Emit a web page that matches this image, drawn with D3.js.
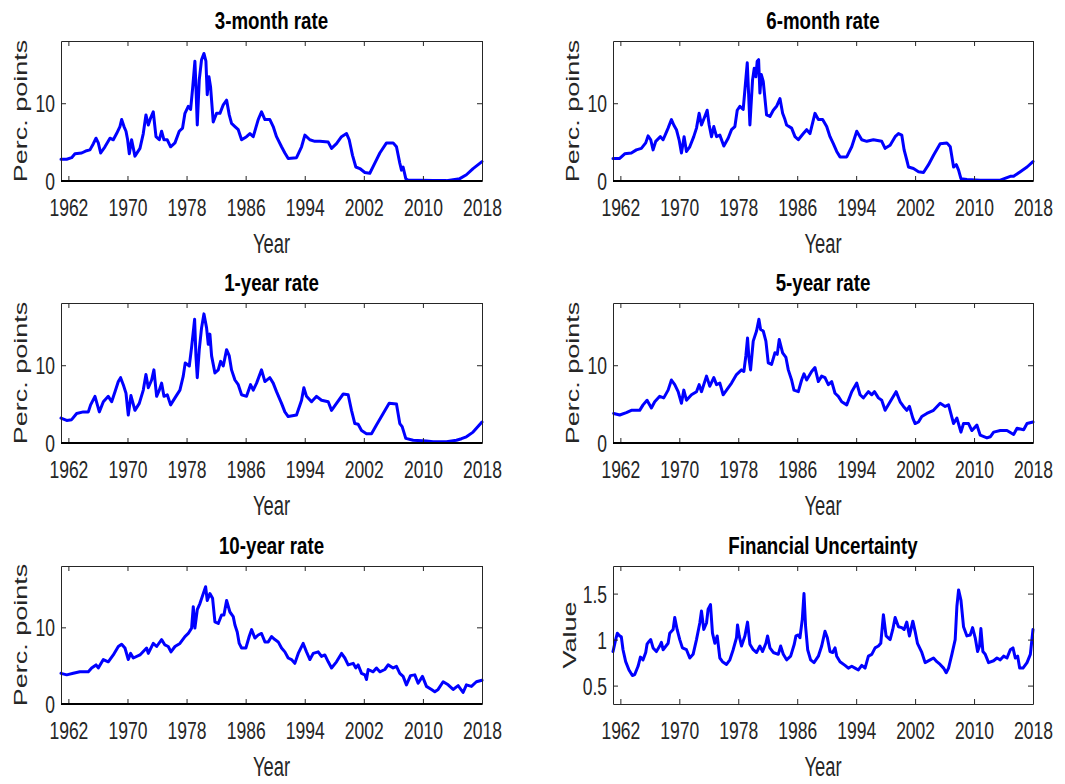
<!DOCTYPE html>
<html>
<head>
<meta charset="utf-8">
<script src="https://cdn.jsdelivr.net/npm/d3@7"></script>
<style>
  html, body { margin: 0; padding: 0; background: #ffffff; }
  svg { display: block; }
</style>
</head>
<body>
<svg id="chart" width="1065" height="784"></svg>
<script>
// ---------------- DATA ----------------
const xTickYears = [1962, 1970, 1978, 1986, 1994, 2002, 2010, 2018];
const rateTicks = [0, 10];
const uncTicks = [0.5, 1, 1.5];
const panelTitles = ["3-month rate", "6-month rate", "1-year rate", "5-year rate", "10-year rate", "Financial Uncertainty"];
const yLabels = ["Perc. points", "Perc. points", "Perc. points", "Perc. points", "Perc. points", "Value"];

const rate3mYears = [1961.0,1961.77,1962.44,1962.89,1963.8,1964.47,1964.92,1965.38,1965.74,1966.05,1966.37,1966.95,1967.63,1968.08,1968.53,1968.98,1969.21,1969.53,1969.8,1970.02,1970.25,1970.56,1971.01,1971.69,1972.14,1972.5,1972.82,1973.13,1973.49,1973.86,1974.31,1974.62,1974.94,1975.39,1975.84,1976.43,1977.01,1977.46,1977.78,1978.23,1978.55,1978.82,1979.13,1979.27,1979.45,1979.72,1980.03,1980.35,1980.62,1980.8,1981.03,1981.25,1981.61,1982.06,1982.52,1982.97,1983.42,1983.78,1984.09,1984.55,1985.0,1985.45,1986.12,1986.58,1987.03,1987.7,1988.15,1988.61,1989.28,1989.73,1990.18,1990.86,1991.31,1991.76,1992.89,1993.57,1994.02,1994.69,1995.37,1996.05,1997.18,1997.63,1998.3,1998.98,1999.66,2000.02,2000.47,2000.92,2001.46,2002.14,2002.81,2003.49,2004.17,2005.07,2005.97,2006.42,2006.87,2007.1,2007.32,2007.68,2008.0,2009.58,2011.38,2013.19,2014.99,2015.89,2016.79,2018.0];
const rate3mValues = [2.8,2.8,3.0,3.5,3.6,3.9,4.0,4.8,5.5,4.9,3.6,4.4,5.5,5.3,6.1,7.0,7.9,7.0,6.4,5.3,3.5,5.3,3.2,4.2,6.1,8.5,7.2,8.1,8.9,5.7,5.3,6.4,5.3,5.3,4.4,4.9,6.4,6.8,8.7,9.6,9.2,11.9,15.4,12.1,7.2,13.0,15.6,16.4,15.4,11.1,13.4,12.1,7.6,8.7,8.7,9.8,10.4,8.5,7.4,7.0,6.6,5.3,5.7,6.1,5.7,7.9,8.9,7.9,7.9,7.0,5.7,4.4,3.6,2.9,3.0,4.4,5.9,5.3,5.1,5.1,5.0,4.2,4.8,5.7,6.1,5.3,3.3,1.8,1.6,1.1,1.0,2.3,3.6,4.9,4.9,4.4,2.3,1.4,1.8,0.3,0.1,0.1,0.05,0.05,0.3,0.8,1.6,2.5];

const rate6mYears = [1961.0,1961.91,1962.59,1963.49,1964.17,1964.85,1965.44,1965.76,1966.12,1966.44,1966.8,1967.43,1967.8,1968.16,1968.48,1968.93,1969.25,1969.61,1969.97,1970.29,1970.65,1970.97,1971.42,1971.96,1972.33,1972.69,1973.01,1973.46,1973.78,1974.05,1974.37,1974.68,1975.05,1975.5,1976.04,1976.63,1977.09,1977.54,1977.86,1978.22,1978.67,1978.9,1979.22,1979.4,1979.58,1979.94,1980.17,1980.39,1980.57,1980.76,1980.94,1981.12,1981.39,1981.84,1982.3,1982.75,1983.2,1983.66,1984.02,1984.34,1984.56,1985.24,1985.7,1986.15,1986.83,1987.28,1987.73,1988.41,1988.87,1989.45,1990.0,1990.45,1990.9,1991.36,1991.81,1992.72,1993.4,1994.08,1994.76,1995.44,1996.34,1997.47,1997.93,1998.61,1999.29,1999.74,2000.19,2000.51,2000.87,2001.1,2001.78,2002.46,2003.14,2003.82,2004.5,2005.4,2006.31,2006.77,2007.22,2007.59,2007.9,2008.22,2009.03,2010.84,2013.56,2014.92,2015.37,2016.28,2017.19,2018.0];
const rate6mValues = [2.9,2.9,3.5,3.6,4.0,4.2,4.9,5.8,5.3,4.0,5.1,5.7,5.3,6.1,6.8,7.9,7.2,6.6,5.3,3.6,5.7,3.8,4.4,5.7,6.8,8.7,7.2,8.3,9.1,7.2,5.7,7.0,5.7,5.9,4.5,5.5,6.6,7.0,9.1,9.6,9.2,11.7,15.2,11.3,7.2,13.0,14.5,13.4,15.4,15.6,11.3,13.7,12.8,8.5,8.3,9.1,9.6,10.6,8.7,7.9,7.2,6.8,5.7,5.3,6.1,6.6,6.1,8.7,7.9,7.9,7.0,5.7,4.8,3.8,3.1,3.1,4.4,6.4,5.3,5.1,5.3,5.1,4.2,4.6,5.7,6.1,5.9,4.0,2.7,1.8,1.6,1.2,1.1,2.1,3.3,4.8,4.9,4.4,1.8,2.1,1.4,0.3,0.2,0.1,0.1,0.6,0.6,1.2,1.8,2.5];

const rate1yYears = [1961.0,1961.77,1962.44,1963.12,1964.02,1964.7,1965.01,1965.6,1966.19,1966.73,1967.4,1967.86,1968.31,1968.76,1969.07,1969.43,1969.8,1970.11,1970.47,1971.01,1971.6,1972.14,1972.5,1972.82,1973.27,1973.58,1973.95,1974.31,1974.62,1974.94,1975.39,1975.84,1976.43,1977.1,1977.55,1977.82,1978.37,1978.68,1979.09,1979.27,1979.45,1979.72,1980.03,1980.35,1980.71,1980.94,1981.16,1981.39,1981.84,1982.29,1982.61,1982.97,1983.42,1983.78,1984.09,1984.55,1985.0,1985.45,1986.12,1986.66,1987.03,1987.48,1988.15,1988.61,1989.28,1989.73,1990.18,1990.86,1991.31,1991.76,1992.89,1993.57,1993.88,1994.24,1994.92,1995.6,1996.27,1997.18,1997.63,1998.3,1999.21,1999.88,2000.33,2000.78,2001.23,2001.69,2002.36,2003.04,2003.71,2004.62,2005.43,2006.42,2006.87,2007.19,2007.68,2008.68,2010.48,2011.38,2013.19,2014.54,2015.22,2015.89,2016.79,2018.0];
const rate1yValues = [3.2,2.9,3.0,3.8,4.0,4.0,4.9,6.0,4.0,5.3,6.0,5.3,6.6,7.9,8.4,7.5,6.4,3.6,6.1,4.2,5.1,6.8,8.8,7.1,8.1,9.4,6.0,6.8,7.7,6.0,6.2,4.9,5.8,6.8,8.6,10.3,9.9,12.3,15.9,11.2,8.4,12.0,14.8,16.6,14.8,12.7,14.0,11.2,9.0,9.4,10.5,9.9,12.0,11.2,9.4,8.1,7.5,6.2,6.0,7.5,6.8,7.7,9.4,7.9,8.4,7.7,6.6,5.1,4.0,3.4,3.6,5.5,7.1,6.0,5.3,6.0,5.5,5.3,4.2,5.1,6.3,6.2,4.2,2.5,2.4,1.6,1.2,1.2,2.3,3.8,5.1,5.0,2.5,2.1,0.6,0.35,0.25,0.17,0.17,0.35,0.55,0.8,1.4,2.7];

const rate5yYears = [1961.09,1961.91,1962.81,1963.49,1964.62,1965.08,1965.62,1966.21,1966.66,1967.34,1967.89,1968.48,1968.93,1969.38,1969.84,1970.29,1970.61,1970.97,1971.65,1972.33,1972.69,1973.01,1973.69,1974.14,1974.68,1975.05,1975.5,1975.95,1976.41,1977.09,1977.76,1978.44,1978.76,1979.03,1979.26,1979.44,1979.67,1980.03,1980.48,1980.8,1981.03,1981.39,1981.75,1982.07,1982.52,1982.98,1983.29,1983.56,1984.02,1984.47,1984.79,1985.24,1985.56,1986.15,1986.6,1986.92,1987.28,1987.96,1988.41,1988.87,1989.32,1989.77,1990.22,1990.68,1991.13,1991.58,1992.04,1992.72,1993.4,1994.08,1994.53,1994.98,1995.66,1996.12,1996.48,1997.02,1997.47,1997.93,1998.61,1999.42,1999.97,2000.42,2000.87,2001.23,2001.69,2002.0,2002.46,2002.91,2003.59,2004.5,2005.4,2006.08,2006.54,2007.22,2007.67,2008.22,2008.57,2009.25,2009.71,2010.39,2010.84,2011.75,2012.2,2012.66,2013.56,2014.47,2015.37,2015.83,2016.73,2017.19,2018.0];
const rate5yValues = [3.8,3.6,3.9,4.2,4.2,4.9,5.5,4.5,5.3,6.0,5.8,6.8,8.1,7.5,6.6,5.1,6.8,5.5,6.2,6.6,7.5,6.6,8.6,7.3,8.4,7.5,7.7,6.2,6.8,7.7,8.8,9.4,9.2,11.2,13.5,11.0,9.4,13.1,14.4,15.9,14.6,14.4,13.1,10.3,10.1,11.6,11.4,13.3,11.6,11.0,9.4,8.1,6.8,6.6,8.1,8.9,8.1,9.2,9.7,7.9,8.6,8.4,7.5,7.9,6.4,6.0,5.3,4.9,6.6,7.7,6.2,5.8,6.6,6.2,6.6,5.8,5.5,4.2,5.3,6.6,5.3,4.7,4.2,4.7,3.2,2.5,2.7,3.4,3.8,4.2,5.1,4.7,4.9,2.5,3.2,1.4,2.5,2.5,1.6,2.3,1.0,0.65,0.8,1.4,1.6,1.6,1.1,1.9,1.7,2.5,2.7];

const rate10yYears = [1961.0,1961.77,1962.66,1963.55,1964.7,1965.15,1965.74,1966.05,1966.73,1967.4,1968.08,1968.76,1969.21,1969.66,1970.11,1970.43,1970.79,1971.69,1972.59,1972.82,1973.49,1973.95,1974.62,1975.07,1975.52,1975.89,1976.43,1977.1,1977.78,1978.23,1978.68,1978.91,1979.13,1979.45,1979.81,1980.26,1980.58,1980.8,1981.16,1981.52,1981.84,1982.29,1982.74,1983.06,1983.42,1983.87,1984.32,1984.55,1984.86,1985.13,1985.45,1986.03,1986.48,1986.8,1987.25,1987.7,1988.15,1988.61,1989.06,1989.51,1989.96,1990.41,1990.86,1991.31,1991.76,1992.21,1992.66,1993.12,1993.79,1994.24,1994.7,1995.15,1995.82,1996.27,1996.72,1997.18,1997.63,1998.3,1998.98,1999.43,1999.88,2000.56,2000.92,2001.23,2001.69,2002.14,2002.36,2002.59,2003.26,2003.71,2004.17,2004.84,2005.29,2005.97,2006.42,2006.87,2007.32,2007.77,2008.32,2008.9,2009.35,2009.94,2010.48,2011.16,2011.61,2012.06,2012.74,2013.42,2014.09,2014.77,2015.44,2015.89,2016.57,2017.24,2018.0];
const rate10yValues = [4.0,3.8,4.0,4.2,4.2,4.7,5.1,4.7,5.8,5.5,6.4,7.5,7.8,7.3,5.8,6.6,6.0,6.4,7.3,6.6,7.9,7.5,8.4,7.7,7.5,6.8,7.5,7.9,8.8,9.2,9.9,12.7,9.9,12.3,13.1,14.4,15.3,13.5,14.4,13.8,10.7,10.5,11.6,11.6,13.5,12.0,11.4,10.3,9.4,7.9,7.3,7.3,8.8,9.7,8.6,9.0,9.2,8.1,8.1,8.8,8.4,8.1,7.3,6.8,6.0,5.8,5.3,6.6,7.9,6.8,5.8,6.6,6.8,6.2,6.4,5.5,4.7,5.5,6.6,6.0,5.1,5.3,4.7,5.1,4.0,3.8,3.2,4.5,4.2,4.7,4.2,4.5,5.1,4.7,4.9,4.0,3.6,2.5,3.7,3.8,2.7,3.6,2.3,1.9,1.6,1.9,2.9,2.5,1.9,2.4,1.5,2.5,2.3,2.9,3.1];

const uncYears = [1961.0,1961.36,1961.59,1961.91,1962.13,1962.36,1962.72,1963.17,1963.63,1963.95,1964.4,1964.72,1965.08,1965.44,1965.62,1965.89,1966.12,1966.44,1966.89,1967.34,1967.57,1967.8,1968.48,1968.7,1969.16,1969.38,1969.7,1970.06,1970.42,1970.97,1971.42,1971.87,1972.33,1972.78,1973.01,1973.32,1973.69,1973.91,1974.23,1974.5,1974.82,1975.14,1975.5,1975.86,1976.41,1976.86,1977.31,1977.76,1977.9,1978.13,1978.44,1978.9,1979.26,1979.58,1980.03,1980.48,1980.94,1981.3,1981.75,1981.98,1982.3,1982.75,1983.43,1983.75,1984.11,1984.56,1985.11,1985.6,1985.83,1986.15,1986.37,1986.69,1986.92,1987.14,1987.42,1987.82,1988.28,1988.87,1989.32,1989.77,1990.09,1990.45,1990.81,1991.13,1991.36,1991.81,1992.49,1992.94,1993.4,1993.85,1994.3,1994.76,1995.21,1995.66,1996.12,1996.57,1997.02,1997.34,1997.7,1998.06,1998.61,1998.97,1999.29,1999.74,2000.19,2000.51,2000.87,2001.23,2001.69,2002.0,2002.32,2002.91,2003.36,2004.04,2004.5,2004.95,2005.4,2005.86,2006.22,2006.54,2006.99,2007.44,2007.67,2007.9,2008.22,2008.57,2009.03,2009.48,2009.8,2010.16,2010.48,2010.75,2010.93,2011.2,2011.52,2011.97,2012.65,2013.11,2013.56,2014.01,2014.47,2014.92,2015.28,2015.6,2015.92,2016.19,2016.64,2017.19,2017.64,2018.0];
const uncValues = [0.87,1.0,1.07,1.04,1.03,0.89,0.76,0.67,0.61,0.62,0.71,0.81,0.78,0.86,0.95,0.98,1.0,0.91,0.87,0.93,0.97,0.89,0.96,1.07,1.11,1.24,1.11,1.0,0.91,0.89,0.8,0.84,1.0,1.18,1.31,1.11,1.18,1.33,1.38,1.07,0.96,1.04,0.8,0.76,0.73,0.78,0.89,1.02,1.16,1.04,0.93,1.04,1.19,0.95,0.89,0.86,0.93,0.87,0.96,1.04,0.91,0.86,0.84,0.93,0.84,0.78,0.82,0.95,1.04,1.05,1.02,1.22,1.5,1.14,0.89,0.78,0.75,0.82,0.93,1.09,1.02,0.87,0.86,0.91,0.82,0.76,0.72,0.69,0.71,0.69,0.67,0.72,0.69,0.82,0.84,0.91,0.93,0.96,1.27,1.04,1.0,1.11,1.24,1.14,1.13,1.11,1.19,1.04,1.2,1.09,0.96,0.86,0.75,0.78,0.8,0.76,0.73,0.69,0.64,0.69,0.84,1.0,1.36,1.54,1.43,1.14,1.04,1.05,1.13,1.02,0.87,0.93,1.12,0.87,0.84,0.75,0.77,0.8,0.78,0.82,0.8,0.89,0.91,0.8,0.82,0.69,0.69,0.75,0.84,1.11];

// ---------------- LAYOUT ----------------
const svg = d3.select("#chart");
const SX = 0.73;              // horizontal squeeze of the original's text
const FONT = "'Liberation Sans', Arial, Helvetica, sans-serif";
const cols = [[61, 482], [613, 1033]];
const rows = [[41, 181], [303, 443], [566, 704]];
const seriesYears = [rate3mYears, rate6mYears, rate1yYears, rate5yYears, rate10yYears, uncYears];
const seriesValues = [rate3mValues, rate6mValues, rate1yValues, rate5yValues, rate10yValues, uncValues];

panelTitles.forEach((title, i) => {
  const [x0, x1] = cols[i % 2];
  const [y0, y1] = rows[Math.floor(i / 2)];
  const isUnc = i === 5;
  const x = d3.scaleLinear().domain([1961, 2018]).range([x0, x1]);
  const y = d3.scaleLinear().domain(isUnc ? [0.3, 1.8] : [0, 18]).range([y1, y0]);
  const yTicks = isUnc ? uncTicks : rateTicks;
  const g = svg.append("g");

  // data line
  const pts = seriesYears[i].map((t, k) => [t, seriesValues[i][k]]);
  g.append("path").datum(pts)
    .attr("fill", "none").attr("stroke", "#0000ff").attr("stroke-width", 3)
    .attr("stroke-linejoin", "round").attr("stroke-linecap", "round")
    .attr("d", d3.line().x(d => x(d[0])).y(d => y(d[1])));

  // axes (inward ticks on all four sides)
  const styleAxis = sel => {
    sel.select(".domain").attr("stroke", "#262626").attr("stroke-width", 1);
    sel.selectAll(".tick line").attr("stroke", "#262626").attr("stroke-width", 1);
  };
  const gb = g.append("g").attr("transform", `translate(0,${y1})`)
    .call(d3.axisBottom(x).tickValues(xTickYears).tickFormat(d3.format("d")).tickSize(-5).tickSizeOuter(0));
  styleAxis(gb);
  gb.selectAll(".tick text")
    .attr("y", 0).attr("dy", 0)
    .attr("transform", `translate(0,35) scale(${SX},1)`)
    .attr("font-family", FONT).attr("font-size", 24).attr("fill", "#262626");

  const gt = g.append("g").attr("transform", `translate(0,${y0})`)
    .call(d3.axisTop(x).tickValues(xTickYears).tickFormat("").tickSize(-5).tickSizeOuter(0));
  styleAxis(gt);

  const gl = g.append("g").attr("transform", `translate(${x0},0)`)
    .call(d3.axisLeft(y).tickValues(yTicks).tickFormat(d => isUnc ? String(d) : d3.format("d")(d)).tickSize(-5).tickSizeOuter(0));
  styleAxis(gl);
  gl.selectAll(".tick text")
    .attr("x", 0).attr("dy", "0.36em")
    .attr("transform", `translate(-6,0) scale(${SX},1)`)
    .attr("font-family", FONT).attr("font-size", 24).attr("fill", "#262626");

  const gr = g.append("g").attr("transform", `translate(${x1},0)`)
    .call(d3.axisRight(y).tickValues(yTicks).tickFormat("").tickSize(-5).tickSizeOuter(0));
  styleAxis(gr);

  // zero line for the rate panels
  if (!isUnc) {
    g.append("line").attr("x1", x0).attr("x2", x1).attr("y1", y(0)).attr("y2", y(0))
      .attr("stroke", "#000000").attr("stroke-width", 2);
  }

  // title
  g.append("text")
    .attr("transform", `translate(${(x0 + x1) / 2},${y0 - 12.5}) scale(0.78,1)`)
    .attr("text-anchor", "middle").attr("font-family", FONT).attr("font-weight", "bold")
    .attr("font-size", 24).attr("fill", "#000").text(title);

  // x label
  g.append("text")
    .attr("transform", `translate(${(x0 + x1) / 2},${y1 + 72}) scale(0.68,1)`)
    .attr("text-anchor", "middle").attr("font-family", FONT)
    .attr("font-size", 27).attr("fill", "#262626").text("Year");

  // y label
  g.append("text")
    .attr("transform", `translate(${x0 - (isUnc ? 37 : 34)},${(y0 + y1) / 2}) scale(0.68,1) rotate(-90)`)
    .attr("text-anchor", "middle").attr("font-family", FONT)
    .attr("font-size", 27).attr("fill", "#262626").text(yLabels[i]);
});
</script>
</body>
</html>
